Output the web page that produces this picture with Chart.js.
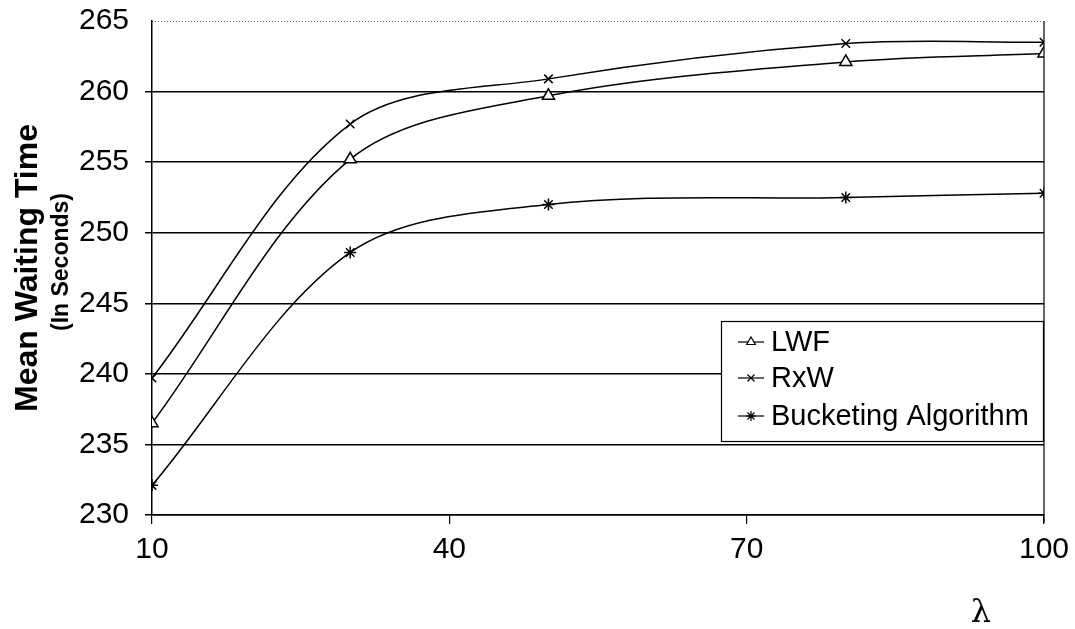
<!DOCTYPE html>
<html>
<head>
<meta charset="utf-8">
<script src="https://cdn.jsdelivr.net/npm/chart.js@4"></script>
<style>
  html, body { margin: 0; padding: 0; background: #fff; }
  #wrap { width: 1075px; height: 629px; position: relative; }
</style>
</head>
<body>
<div id="wrap"><canvas id="c" width="1075" height="629"></canvas></div>
<script>
// ---- Data ----
const lambdaValues = [10, 30, 50, 80, 100];
const lwf       = [236.5, 255.2, 259.7, 262.1, 262.7];
const rxw       = [239.7, 257.7, 260.9, 263.4, 263.5];
const bucketing = [232.1, 248.6, 252.0, 252.5, 252.8];
const seriesNames = ['LWF', 'RxW', 'Bucketing Algorithm'];
const xTicks = [10, 40, 70, 100];
const yTicks = [230, 235, 240, 245, 250, 255, 260, 265];
const yTitle = 'Mean Waiting Time';
const ySubTitle = '(In Seconds)';
const xTitle = 'λ';

const toPts = arr => lambdaValues.map((x, i) => ({ x: x, y: arr[i] }));
const FONT = '"Liberation Sans", Arial, sans-serif';

const common = {
  borderColor: '#000',
  borderWidth: 1.5,
  pointBorderColor: '#000',
  pointBackgroundColor: '#fff',
  pointBorderWidth: 1.5,
  pointRadius: 6,
  tension: 0.33,
  fill: false
};

const datasets = [
  Object.assign({}, common, { label: seriesNames[0], data: toPts(lwf), pointStyle: 'triangle', pointRadius: 7 }),
  Object.assign({}, common, { label: seriesNames[1], data: toPts(rxw), pointStyle: 'crossRot' }),
  Object.assign({}, common, { label: seriesNames[2], data: toPts(bucketing), pointStyle: 'star' })
];

const decor = {
  id: 'decor',
  afterDraw(chart) {
    const ctx = chart.ctx;
    const a = chart.chartArea;
    ctx.save();
    // top dotted border
    ctx.strokeStyle = '#666';
    ctx.lineWidth = 1;
    ctx.setLineDash([1, 2]);
    ctx.beginPath();
    ctx.moveTo(a.left, a.top + 0.5);
    ctx.lineTo(a.right, a.top + 0.5);
    ctx.stroke();
    ctx.setLineDash([]);
    // right border
    ctx.strokeStyle = '#000';
    ctx.lineWidth = 1.2;
    ctx.beginPath();
    ctx.moveTo(a.right, a.top);
    ctx.lineTo(a.right, a.bottom + 8);
    ctx.stroke();

    // y titles
    const cy = (a.top + a.bottom) / 2;
    ctx.fillStyle = '#000';
    ctx.textAlign = 'center';
    ctx.textBaseline = 'middle';
    ctx.save();
    ctx.translate(28, cy);
    ctx.rotate(-Math.PI / 2);
    ctx.font = 'bold 32px ' + FONT;
    ctx.fillText(yTitle, 0, 0);
    ctx.restore();
    ctx.save();
    ctx.translate(62, cy - 6);
    ctx.rotate(-Math.PI / 2);
    ctx.font = 'bold 23px ' + FONT;
    ctx.fillText(ySubTitle, 0, 0);
    ctx.restore();

    // x title
    ctx.font = '32px "DejaVu Serif", "Liberation Serif", serif';
    ctx.fillText(xTitle, 981, 614);

    // legend
    const lx = 721, ly = 321, lw = 322, lh = 120;
    ctx.fillStyle = '#fff';
    ctx.fillRect(lx, ly, lw, lh);
    ctx.strokeStyle = '#000';
    ctx.lineWidth = 1.2;
    ctx.strokeRect(lx + 0.5, ly + 0.5, lw, lh);
    const rows = [342, 378, 416];
    chart.data.datasets.forEach((ds, i) => {
      const y = rows[i];
      ctx.strokeStyle = '#000';
      ctx.lineWidth = 1.2;
      ctx.beginPath();
      ctx.moveTo(738, y);
      ctx.lineTo(764, y);
      ctx.stroke();
      ctx.fillStyle = '#fff';
      Chart.helpers.drawPoint(ctx, {
        pointStyle: ds.pointStyle, radius: 5, rotation: 0, borderWidth: 1.2
      }, 751, y);
      ctx.fillStyle = '#000';
      ctx.textAlign = 'left';
      ctx.textBaseline = 'middle';
      ctx.font = '29px ' + FONT;
      ctx.fillText(ds.label, 771, y + 1);
    });
    ctx.restore();
  }
};

new Chart(document.getElementById('c'), {
  type: 'line',
  data: { datasets: datasets },
  options: {
    responsive: false,
    devicePixelRatio: 1,
    animation: false,
    layout: { padding: { top: 21, right: 31, left: 0, bottom: 0 } },
    plugins: { legend: { display: false }, tooltip: { enabled: false } },
    scales: {
      x: {
        type: 'linear',
        min: 10, max: 100,
        afterFit(s) { s.height = 114; s.paddingLeft = 0; s.paddingRight = 0; },
        afterBuildTicks(s) { s.ticks = xTicks.map(v => ({ value: v })); },
        ticks: { color: '#000', font: { family: FONT, size: 30 }, padding: 8, maxRotation: 0 },
        grid: { drawOnChartArea: false, drawTicks: true, tickLength: 9, color: '#000', lineWidth: 1.2 },
        border: { display: true, color: '#000', width: 1.5 }
      },
      y: {
        type: 'linear',
        min: 230, max: 265,
        afterFit(s) { s.width = 152; s.paddingTop = 0; s.paddingBottom = 0; },
        afterBuildTicks(s) { s.ticks = yTicks.map(v => ({ value: v })); },
        ticks: { color: '#000', font: { family: FONT, size: 30 }, padding: 16 },
        grid: {
          color: c => (c.tick && c.tick.value === 265) ? 'rgba(0,0,0,0)' : '#000',
          lineWidth: 1.5, tickLength: 7, drawTicks: true
        },
        border: { display: true, color: '#000', width: 1.5 }
      }
    }
  },
  plugins: [decor]
});
</script>
</body>
</html>
